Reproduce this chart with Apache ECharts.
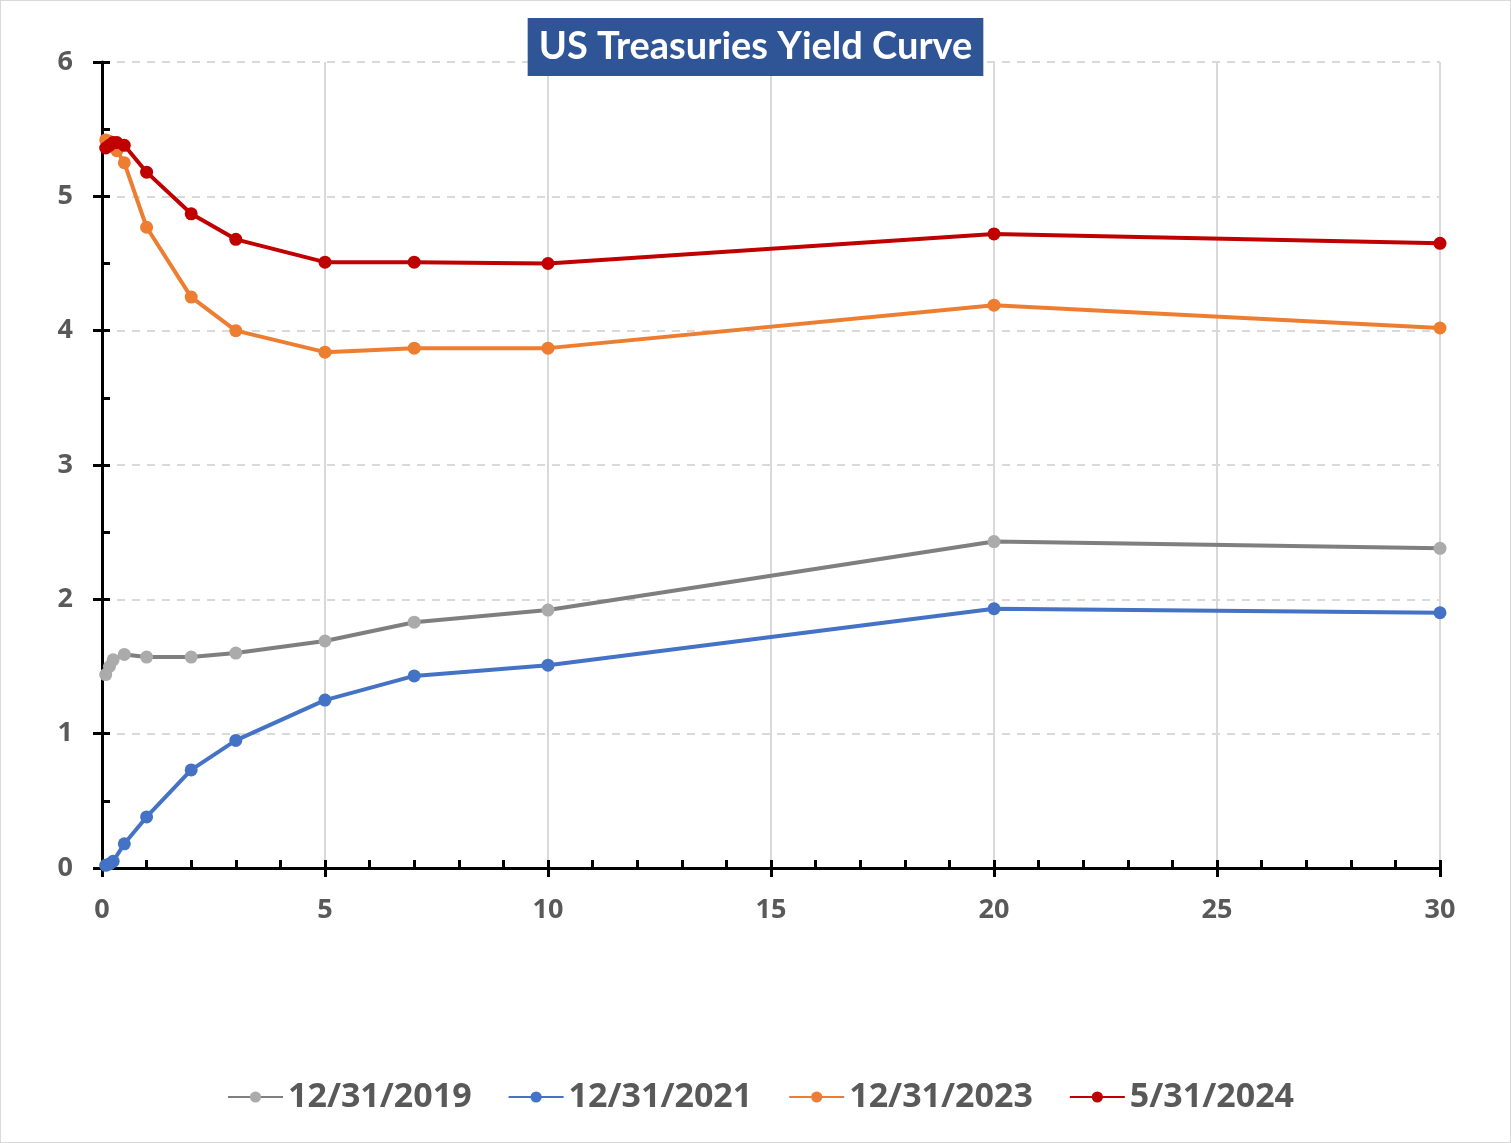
<!DOCTYPE html>
<html>
<head>
<meta charset="utf-8">
<script src="https://cdn.jsdelivr.net/npm/echarts@6/dist/echarts.min.js"></script>
<style>
  html, body { margin: 0; padding: 0; background: #fff; }
  #chart { width: 1511px; height: 1143px; box-sizing: border-box; border: 1px solid #d9d9d9; }
</style>
</head>
<body>
<div id="chart"></div>
<script>
// Maturities in years (1, 2, 3, 4, 6 months, then 1-30 years)
const maturitiesShort = [0.083, 0.167, 0.25, 0.5, 1, 2, 3, 5, 7, 10, 20, 30];
const maturitiesFull = [0.083, 0.167, 0.25, 0.333, 0.5, 1, 2, 3, 5, 7, 10, 20, 30];

// Yields (%)
const yields2019 = [1.44, 1.50, 1.55, 1.59, 1.57, 1.57, 1.60, 1.69, 1.83, 1.92, 2.43, 2.38];
const yields2021 = [0.02, 0.03, 0.05, 0.18, 0.38, 0.73, 0.95, 1.25, 1.43, 1.51, 1.93, 1.90];
const yields2023 = [5.42, 5.41, 5.37, 5.34, 5.25, 4.77, 4.25, 4.00, 3.84, 3.87, 3.87, 4.19, 4.02];
const yields2024 = [5.36, 5.38, 5.40, 5.40, 5.38, 5.18, 4.87, 4.68, 4.51, 4.51, 4.50, 4.72, 4.65];

const seriesNames = ['12/31/2019', '12/31/2021', '12/31/2023', '5/31/2024'];
const chartTitle = 'US Treasuries Yield Curve';

const pairs = (xs, ys) => xs.map((x, i) => [x, ys[i]]);

const FONT = '"Open Sans", "Noto Sans", sans-serif';
const LABEL_COLOR = '#595959';

function lineSeries(name, data, lineColor, markerColor) {
  return {
    name: name,
    type: 'line',
    xAxisIndex: 0,
    yAxisIndex: 0,
    data: data,
    symbol: 'circle',
    symbolSize: 13,
    showSymbol: true,
    lineStyle: { color: lineColor, width: 4 },
    itemStyle: { color: markerColor },
    emphasis: { disabled: true },
    animation: false
  };
}

const chart = echarts.init(document.getElementById('chart'));
chart.setOption({
  animation: false,
  title: {
    text: chartTitle,
    left: 'center',
    top: 17,
    backgroundColor: '#2F5597',
    padding: [10, 11, 10, 11],
    textStyle: { color: '#ffffff', fontSize: 38, fontWeight: 'bold', fontFamily: 'Lato, "Open Sans", sans-serif' }
  },
  grid: { left: 101, right: 70, top: 61, bottom: 274, containLabel: false },
  legend: {
    bottom: 23,
    left: 221,
    itemWidth: 55,
    itemHeight: 14,
    itemGap: 36,
    textStyle: { color: LABEL_COLOR, fontSize: 34, fontWeight: 'bold', fontFamily: FONT },
    data: seriesNames
  },
  xAxis: [
    {
      type: 'value', position: 'bottom', min: 0, max: 30, interval: 5,
      axisLine: { show: true, onZero: false, lineStyle: { color: '#000', width: 3 } },
      axisTick: { show: true, inside: false, length: 9, lineStyle: { color: '#000', width: 3 } },
      axisLabel: { color: LABEL_COLOR, fontSize: 27, fontWeight: 'bold', fontFamily: FONT, margin: 29 },
      splitLine: { show: true, lineStyle: { color: '#d9d9d9', width: 2, type: 'solid' } }
    },
    {
      type: 'value', position: 'bottom', min: 0, max: 30, interval: 1,
      axisLine: { show: false, onZero: false },
      axisTick: { show: true, inside: true, length: 8, lineStyle: { color: '#000', width: 3 } },
      axisLabel: { show: false },
      splitLine: { show: false }
    }
  ],
  yAxis: [
    {
      type: 'value', position: 'left', min: 0, max: 6, interval: 1,
      axisLine: { show: true, onZero: false, lineStyle: { color: '#000', width: 3 } },
      axisTick: { show: true, inside: false, length: 9, lineStyle: { color: '#000', width: 3 } },
      axisLabel: { color: LABEL_COLOR, fontSize: 27, fontWeight: 'bold', fontFamily: FONT, margin: 29 },
      splitLine: { show: true, lineStyle: { color: '#d9d9d9', width: 2, type: [8, 7] } }
    },
    {
      type: 'value', position: 'left', min: 0, max: 6, interval: 0.5,
      axisLine: { show: false, onZero: false },
      axisTick: { show: true, inside: true, length: 8, lineStyle: { color: '#000', width: 3 } },
      axisLabel: { show: false },
      splitLine: { show: false }
    }
  ],
  series: [
    lineSeries(seriesNames[0], pairs(maturitiesShort, yields2019), '#7F7F7F', '#ABABAB'),
    lineSeries(seriesNames[1], pairs(maturitiesShort, yields2021), '#4472C4', '#4472C4'),
    lineSeries(seriesNames[2], pairs(maturitiesFull, yields2023), '#ED7D31', '#ED7D31'),
    lineSeries(seriesNames[3], pairs(maturitiesFull, yields2024), '#C00000', '#C00000')
  ]
});
</script>
</body>
</html>
